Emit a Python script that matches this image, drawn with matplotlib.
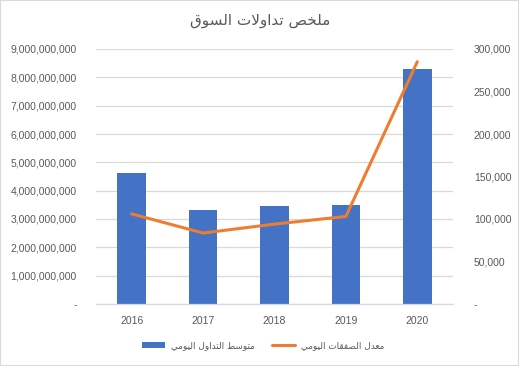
import matplotlib
matplotlib.use("Agg")
import matplotlib.pyplot as plt
from matplotlib.ticker import FuncFormatter, MultipleLocator
from matplotlib.patches import Rectangle

years = ['2016', '2017', '2018', '2019', '2020']
avg_trading = [4.64e9, 3.33e9, 3.47e9, 3.51e9, 8.31e9]
avg_deals = [106000, 83500, 94000, 103000, 285000]

title_text = "ملخص تداولات السوق"
bar_label = "متوسط التداول اليومي"
line_label = "معدل الصفقات اليومي"

# --- minimal Arabic shaping (presentation forms) so matplotlib renders joined text ---
FORMS = {
    '\u0627': ('\uFE8D', '\uFE8E', None, None),
    '\u062A': ('\uFE95', '\uFE96', '\uFE97', '\uFE98'),
    '\u062E': ('\uFEA5', '\uFEA6', '\uFEA7', '\uFEA8'),
    '\u062F': ('\uFEA9', '\uFEAA', None, None),
    '\u0633': ('\uFEB1', '\uFEB2', '\uFEB3', '\uFEB4'),
    '\u0635': ('\uFEB9', '\uFEBA', '\uFEBB', '\uFEBC'),
    '\u0637': ('\uFEC1', '\uFEC2', '\uFEC3', '\uFEC4'),
    '\u0639': ('\uFEC9', '\uFECA', '\uFECB', '\uFECC'),
    '\u0641': ('\uFED1', '\uFED2', '\uFED3', '\uFED4'),
    '\u0642': ('\uFED5', '\uFED6', '\uFED7', '\uFED8'),
    '\u0644': ('\uFEDD', '\uFEDE', '\uFEDF', '\uFEE0'),
    '\u0645': ('\uFEE1', '\uFEE2', '\uFEE3', '\uFEE4'),
    '\u0648': ('\uFEED', '\uFEEE', None, None),
    '\u064A': ('\uFEF1', '\uFEF2', '\uFEF3', '\uFEF4'),
    'LA': ('\uFEFB', '\uFEFC', None, None),
}


def shape(s):
    units = []
    i = 0
    while i < len(s):
        if s[i] == '\u0644' and i + 1 < len(s) and s[i + 1] == '\u0627':
            units.append('LA')
            i += 2
        else:
            units.append(s[i])
            i += 1

    def dual(u):
        return u in FORMS and FORMS[u][2] is not None

    out = []
    for k, u in enumerate(units):
        if u not in FORMS:
            out.append(u)
            continue
        prev = units[k - 1] if k > 0 else None
        nxt = units[k + 1] if k + 1 < len(units) else None
        jp = prev is not None and dual(prev)
        jn = dual(u) and nxt is not None and nxt in FORMS
        f = FORMS[u]
        if jp and jn:
            out.append(f[3])
        elif jp:
            out.append(f[1])
        elif jn:
            out.append(f[2])
        else:
            out.append(f[0])
    return ''.join(out)[::-1]


BLUE = '#4472C4'
ORANGE = '#ED7D31'
GRID = '#D9D9D9'
TXT = '#595959'

fig = plt.figure(figsize=(5.19, 3.66), dpi=100)
ax = fig.add_axes([96 / 519, 62 / 366, (453 - 96) / 519, (304 - 49) / 366])
ax2 = ax.twinx()

x = list(range(len(years)))
bars = ax.bar(x, avg_trading, width=0.4, color=BLUE, zorder=2)
ln, = ax2.plot(x, avg_deals, color=ORANGE, linewidth=2.2, solid_capstyle='round', zorder=3)

ax.set_xlim(-0.5, len(years) - 0.5)
ax.set_ylim(0, 9e9)
ax2.set_ylim(0, 300000)
ax.yaxis.set_major_locator(MultipleLocator(1e9))
ax2.yaxis.set_major_locator(MultipleLocator(50000))


def fmt(v, pos):
    if abs(v) < 1e-9:
        return '-'
    return f'{v:,.0f}'


ax.yaxis.set_major_formatter(FuncFormatter(fmt))
ax2.yaxis.set_major_formatter(FuncFormatter(fmt))
ax.set_xticks(x)
ax.set_xticklabels(years)

ax.grid(axis='y', color=GRID, linewidth=0.9, zorder=0)
ax.set_axisbelow(True)
for a in (ax, ax2):
    for sp in a.spines.values():
        sp.set_visible(False)
ax.spines['bottom'].set_visible(True)
ax.spines['bottom'].set_color(GRID)
ax.spines['bottom'].set_linewidth(0.9)

for a in (ax, ax2):
    a.tick_params(axis='both', length=0, labelsize=7.5, labelcolor=TXT)
    for lab in a.get_yticklabels() + a.get_xticklabels():
        lab.set_fontfamily('Liberation Sans')
ax.tick_params(axis='y', pad=14)
ax2.tick_params(axis='y', pad=15)
ax.tick_params(axis='x', pad=9)

fig.text(0.502, 1 - 20 / 366, shape(title_text), ha='center', va='center',
         fontsize=11, color=TXT, family=['DejaVu Sans'])

leg = fig.legend([bars, ln], [shape(bar_label), shape(line_label)],
                 loc='center', bbox_to_anchor=(0.507, 1 - 346 / 366), ncol=2,
                 frameon=False, prop={'family': 'DejaVu Sans', 'size': 6.4},
                 handlelength=2.6, handleheight=0.65, handletextpad=0.6,
                 columnspacing=2.0)
for t in leg.get_texts():
    t.set_color(TXT)

fig.patches.append(Rectangle((0, 0), 1, 1, transform=fig.transFigure,
                             fill=False, edgecolor=GRID, linewidth=1.5))

fig.savefig('out.png', dpi=100)
